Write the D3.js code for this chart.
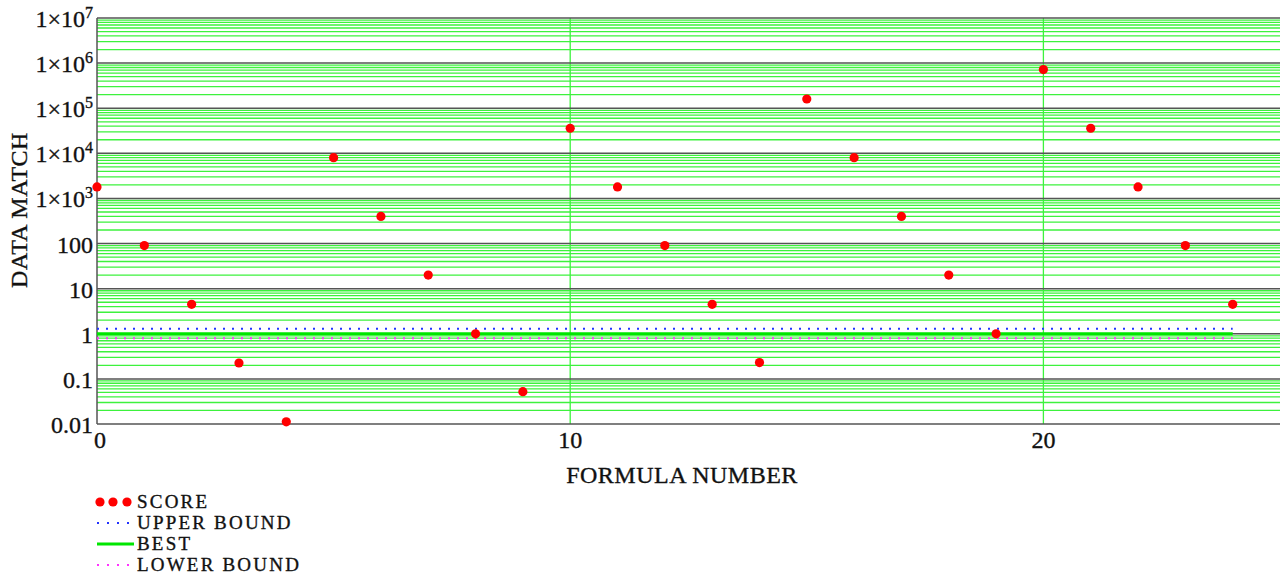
<!DOCTYPE html>
<html>
<head>
<meta charset="utf-8">
<script src="https://cdn.jsdelivr.net/npm/d3@7/dist/d3.min.js"></script>
<style>
  body { margin: 0; background: #fff; }
  text { font-family: 'Liberation Serif', 'Times New Roman', serif; fill: #111; stroke: #111; stroke-width: 0.35px; }
</style>
</head>
<body>
<script>
var formulas = d3.range(0, 25);
var scores = [
  1800, 90, 4.5, 0.225, 0.0112,
  8000, 400, 20, 1.0, 0.052,
  36000, 1800, 90, 4.5, 0.23,
  160000, 8000, 400, 20, 1.0,
  720000, 36000, 1800, 90, 4.5
];
var upperBound = 1.3,
    best = 1,
    lowerBound = 0.8;
var boundRange = [0, 24];
var yTickVals = [0.01, 0.1, 1, 10, 100, 1e3, 1e4, 1e5, 1e6, 1e7];
var xTickVals = [0, 10, 20];
var legendItems = ['SCORE', 'UPPER BOUND', 'BEST', 'LOWER BOUND'];

var w = 1280, h = 577;
var plotL = 97, plotR = 1280, plotT = 18, plotB = 424;

var svg = d3.select('body').append('svg')
  .attr('width', w)
  .attr('height', h);

var x = d3.scaleLinear().domain([0, 25]).range([plotL, plotR]);
var y = d3.scaleLog().domain([0.01, 1e7]).range([plotB, plotT]);

// minor log grid
var minors = [];
yTickVals.slice(0, -1).forEach(function(d) {
  for (var k = 2; k < 10; k++) minors.push(d * k);
});

svg.append('g').selectAll('line')
  .data(minors)
  .enter()
  .append('line')
    .attr('x1', plotL)
    .attr('x2', plotR)
    .attr('y1', function(d) { return y(d); })
    .attr('y2', function(d) { return y(d); })
    .attr('stroke', '#3df23d')
    .attr('stroke-width', 1.3);

// vertical grid
svg.append('g').selectAll('line')
  .data(xTickVals.slice(1))
  .enter()
  .append('line')
    .attr('x1', function(d) { return x(d); })
    .attr('x2', function(d) { return x(d); })
    .attr('y1', plotT)
    .attr('y2', plotB)
    .attr('stroke', '#3df23d')
    .attr('stroke-width', 1.3);

// major grid
svg.append('g').selectAll('line')
  .data(yTickVals)
  .enter()
  .append('line')
    .attr('x1', plotL)
    .attr('x2', plotR)
    .attr('y1', function(d) { return y(d); })
    .attr('y2', function(d) { return y(d); })
    .attr('stroke', '#555')
    .attr('stroke-width', 1.5);

svg.append('line')
  .attr('x1', plotL).attr('x2', plotL)
  .attr('y1', plotT).attr('y2', plotB)
  .attr('stroke', '#555')
  .attr('stroke-width', 1.5);

// bounds
var bounds = [
  {v: upperBound, color: '#2233ff', dash: '2,7', width: 2},
  {v: best, color: '#00e600', dash: null, width: 3},
  {v: lowerBound, color: '#ff33ff', dash: '2,7', width: 2}
];

svg.append('g').selectAll('line')
  .data(bounds)
  .enter()
  .append('line')
    .attr('x1', x(boundRange[0]))
    .attr('x2', x(boundRange[1]))
    .attr('y1', function(d) { return y(d.v); })
    .attr('y2', function(d) { return y(d.v); })
    .attr('stroke', function(d) { return d.color; })
    .attr('stroke-width', function(d) { return d.width; })
    .attr('stroke-dasharray', function(d) { return d.dash; });

// scores
svg.append('g').selectAll('circle')
  .data(scores)
  .enter()
  .append('circle')
    .attr('cx', function(d, i) { return x(formulas[i]); })
    .attr('cy', function(d) { return y(d); })
    .attr('r', 4.6)
    .attr('fill', '#ff0000');

// y tick labels
var yLabels = svg.append('g').selectAll('text')
  .data(yTickVals)
  .enter()
  .append('text')
    .attr('x', 93)
    .attr('y', function(d) { return y(d) + 9; })
    .attr('text-anchor', 'end')
    .style('font-size', '24px');

yLabels.each(function(d) {
  var t = d3.select(this);
  var e = Math.round(Math.log10(d));
  if (e >= 3) {
    t.append('tspan').text('1\u00d710');
    t.append('tspan')
      .attr('dy', -9)
      .style('font-size', '16px')
      .text(e);
  } else {
    t.text(d >= 1 ? d3.format('d')(d) : String(d));
  }
});

// x tick labels
svg.append('g').selectAll('text')
  .data(xTickVals)
  .enter()
  .append('text')
    .attr('x', function(d) { return x(d) + (d === 0 ? 3 : 0); })
    .attr('y', 448)
    .attr('text-anchor', 'middle')
    .style('font-size', '24px')
    .text(function(d) { return d; });

svg.append('text')
  .attr('x', 682)
  .attr('y', 483)
  .attr('text-anchor', 'middle')
  .style('font-size', '24px')
  .style('letter-spacing', '0.5px')
  .text('FORMULA NUMBER');

svg.append('text')
  .attr('transform', 'translate(27,210) rotate(-90)')
  .attr('text-anchor', 'middle')
  .style('font-size', '24px')
  .style('letter-spacing', '0.5px')
  .text('DATA MATCH');

// legend
var legend = svg.append('g');
var ly = [502, 523, 544, 565];

legend.selectAll('text')
  .data(legendItems)
  .enter()
  .append('text')
    .attr('x', 137)
    .attr('y', function(d, i) { return ly[i] + 6; })
    .style('font-size', '19px')
    .style('letter-spacing', '2.2px')
    .text(function(d) { return d; });

legend.selectAll('circle')
  .data([100, 113, 127])
  .enter()
  .append('circle')
    .attr('cx', function(d) { return d; })
    .attr('cy', ly[0])
    .attr('r', 4.6)
    .attr('fill', '#ff0000');

legend.selectAll('line')
  .data(bounds)
  .enter()
  .append('line')
    .attr('x1', 97)
    .attr('x2', 134)
    .attr('y1', function(d, i) { return ly[i + 1]; })
    .attr('y2', function(d, i) { return ly[i + 1]; })
    .attr('stroke', function(d) { return d.color; })
    .attr('stroke-width', function(d) { return d.width; })
    .attr('stroke-dasharray', function(d) { return d.dash ? '2,8' : null; });
</script>
</body>
</html>
